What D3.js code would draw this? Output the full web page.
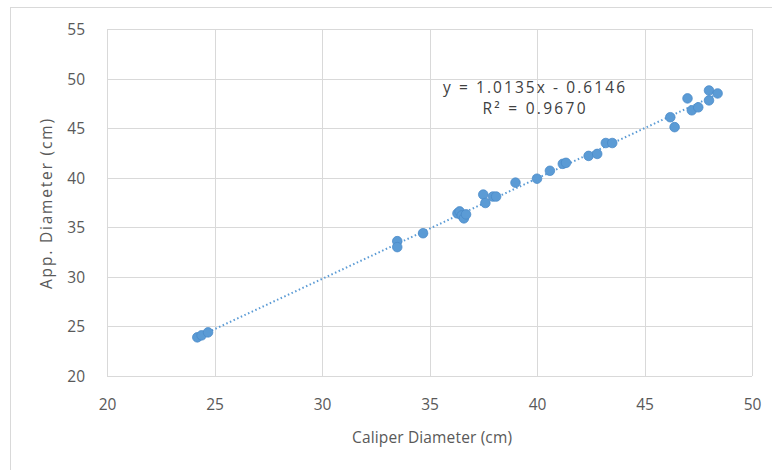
<!DOCTYPE html>
<html>
<head>
<meta charset="utf-8">
<script src="https://cdn.jsdelivr.net/npm/d3@7"></script>
<style>
  html, body { margin: 0; padding: 0; background: #fff; }
  svg text { font-family: "Open Sans", "Noto Sans", sans-serif; }
</style>
</head>
<body>
<div id="chart"></div>
<script>
// caliper diameter (x) vs app diameter (y), cm
var caliper = [24.2, 24.4, 24.7, 33.5, 33.5, 34.7, 36.3, 36.4, 36.5, 36.6, 36.7, 37.5, 37.6, 37.95, 38.1,
  39.0, 40.0, 40.6, 41.2, 41.35, 42.4, 42.8, 43.2, 43.5, 46.2, 46.4, 47.0, 47.2, 47.5, 48.0, 48.0, 48.4];
var appDiam = [23.9, 24.1, 24.4, 33.6, 33.0, 34.4, 36.4, 36.6, 36.2, 35.9, 36.3, 38.3, 37.45, 38.1, 38.1,
  39.5, 39.9, 40.7, 41.4, 41.5, 42.2, 42.4, 43.5, 43.5, 46.1, 45.1, 48.0, 46.8, 47.1, 48.8, 47.8, 48.5];
var xTicks = [20, 25, 30, 35, 40, 45, 50];
var yTicks = [20, 25, 30, 35, 40, 45, 50, 55];
var slope = 1.0135, intercept = -0.6146;
var eqLines = ["y = 1.0135x - 0.6146", "R\u00b2 = 0.9670"];

var W = 772, H = 470;
var m = {left: 107, top: 29, right: 20, bottom: 94};

var svg = d3.select("#chart").append("svg").attr("width", W).attr("height", H);

// outer chart border
svg.append("rect").attr("x", 10.5).attr("y", 7.5).attr("width", W + 20).attr("height", H + 20)
  .attr("fill", "#fff").attr("stroke", "#d9d9d9");

var x = d3.scaleLinear().domain([20, 50]).range([m.left, W - m.right]);
var y = d3.scaleLinear().domain([20, 55]).range([H - m.bottom, m.top]);

var g = svg.append("g");

// gridlines
g.selectAll(".vg").data(xTicks).enter().append("line")
  .attr("x1", d => Math.round(x(d)) + 0.5).attr("x2", d => Math.round(x(d)) + 0.5)
  .attr("y1", y(20)).attr("y2", y(55))
  .attr("stroke", "#d9d9d9").attr("stroke-width", 1);
g.selectAll(".hg").data(yTicks).enter().append("line")
  .attr("y1", d => Math.round(y(d)) + 0.5).attr("y2", d => Math.round(y(d)) + 0.5)
  .attr("x1", x(20)).attr("x2", x(50))
  .attr("stroke", "#d9d9d9").attr("stroke-width", 1);

// tick labels via axes, no lines
var xAxis = svg.append("g").attr("transform", "translate(0," + (y(20) + 15) + ")")
  .call(d3.axisBottom(x).tickValues(xTicks).tickSize(0).tickPadding(8));
var yAxis = svg.append("g").attr("transform", "translate(" + (x(20) - 22) + ",0)")
  .call(d3.axisLeft(y).tickValues(yTicks).tickSize(0).tickPadding(0));
[xAxis, yAxis].forEach(function (a) {
  a.select(".domain").remove();
  a.selectAll("text").attr("fill", "#595959").style("font-size", "15.5px")
    .style("font-family", "\"Open Sans\", sans-serif");
});
yAxis.selectAll("text").attr("dy", "0.35em");

// trendline
var xs = d3.extent(caliper);
g.append("line")
  .attr("x1", x(xs[0])).attr("y1", y(slope * xs[0] + intercept))
  .attr("x2", x(xs[1])).attr("y2", y(slope * xs[1] + intercept))
  .attr("stroke", "#5b9bd5").attr("stroke-width", 2).attr("stroke-dasharray", "1.5,2.5");

// points
g.selectAll("circle").data(caliper).enter().append("circle")
  .attr("cx", (d, i) => x(d)).attr("cy", (d, i) => y(appDiam[i]))
  .attr("r", 4.8).attr("fill", "#5b9bd5").attr("stroke", "#4a89c8").attr("stroke-width", 0.75);

// equation
svg.selectAll(".eq").data(eqLines).enter().append("text")
  .attr("x", 534).attr("y", (d, i) => 93 + i * 21)
  .attr("text-anchor", "middle").attr("fill", "#404040").style("font-size", "15.5px")
  .attr("textLength", (d, i) => i ? 103 : 182).attr("lengthAdjust", "spacing")
  .text(d => d);

// axis titles
svg.append("text").attr("x", 432).attr("y", 443).attr("text-anchor", "middle")
  .attr("fill", "#595959").style("font-size", "15.5px")
  .attr("textLength", 160).attr("lengthAdjust", "spacing")
  .text("Caliper Diameter (cm)");
svg.append("text").attr("transform", "translate(52," + 204 + ") rotate(-90)")
  .attr("text-anchor", "middle").attr("fill", "#595959").style("font-size", "15.5px")
  .attr("textLength", 170).attr("lengthAdjust", "spacing")
  .text("App. Diameter (cm)");
</script>
</body>
</html>
